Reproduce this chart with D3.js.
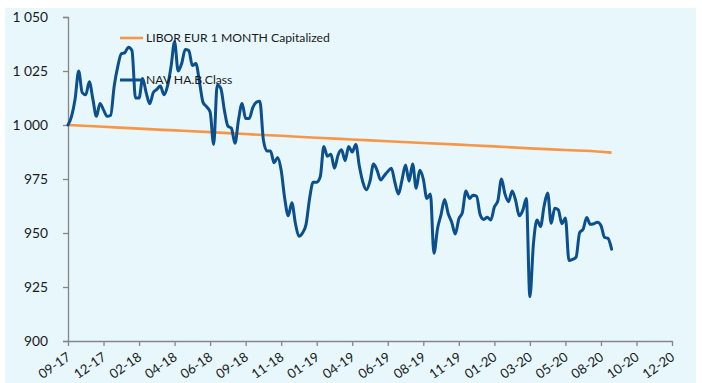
<!DOCTYPE html>
<html>
<head>
<meta charset="utf-8">
<script src="https://cdn.jsdelivr.net/npm/d3@7"></script>
<style>
  html, body { margin: 0; padding: 0; background: #ffffff; }
  svg { display: block; }
  text { font-family: Lato, "Open Sans", sans-serif; fill: #1a1a1a; }
</style>
</head>
<body>
<svg id="chart" width="702" height="383"></svg>
<script>
// Axis ticks (every 10 weeks) and their labels
const tickDates = ["2017-09-22","2017-12-01","2018-02-09","2018-04-20","2018-06-29","2018-09-07",
  "2018-11-16","2019-01-25","2019-04-05","2019-06-14","2019-08-23","2019-11-01",
  "2020-01-10","2020-03-20","2020-05-29","2020-08-07","2020-10-16","2020-12-25"];
const tickLabels = ["09-17","12-17","02-18","04-18","06-18","09-18","11-18","01-19","04-19",
  "06-19","08-19","11-19","01-20","03-20","05-20","08-20","10-20","12-20"];
const yTicks = [900, 925, 950, 975, 1000, 1025, 1050];
const yTickLabels = ["900", "925", "950", "975", "1 000", "1 025", "1 050"];

// Series names
const seriesNames = ["LIBOR EUR 1 MONTH Capitalized", "NAV HA.B.Class"];

// Weekly NAV (Fridays, starting 2017-09-22)
const navStart = "2017-09-22";
const navValues = [
  1000, 1004, 1012, 1025, 1015, 1014, 1020, 1012, 1004, 1010,
  1007, 1004, 1004.5, 1018, 1027, 1033, 1033.5, 1036, 1034.5, 1012.5,
  1012.5, 1021.5, 1015, 1009.8, 1015, 1016.5, 1018, 1014, 1018, 1027,
  1038.5, 1025, 1028.5, 1035, 1034.5, 1027.5, 1028.5, 1020, 1010.5, 1008.5,
  1006, 991, 1018.5, 1017, 1007, 999.5, 998.5, 991.5, 1002.5, 1010,
  1003, 1003, 1008, 1010.5, 1011, 993, 988, 988, 982.5, 985,
  979, 966, 958, 964, 954.5, 948.5, 950, 954, 966, 973.5,
  973.5, 976, 990, 985.5, 986.5, 980, 986, 988.5, 983.5, 990,
  987.5, 991, 981, 973.5, 970, 974, 982, 979, 974.5, 976.5,
  978.5, 980, 973.5, 968, 974.5, 981.5, 974, 982, 970.7, 979,
  975, 966, 968, 940.6, 952, 958.5, 965.5, 959, 955, 949.5,
  956.5, 959.5, 969.5, 966, 967.5, 967, 958.5, 956.3, 957.3, 956,
  962, 965, 975, 968, 964.5, 969.5, 965, 958, 960.5, 966,
  920.5, 945, 956, 953, 962.5, 968.5, 954.5, 961.5, 960.7, 954.3,
  957, 937.3, 937.8, 938.8, 950.2, 951.8, 957.2, 954, 954.3, 955,
  953.5, 948, 947.5, 942.5
];

// Capitalized LIBOR index
const liborDates = ["2017-09-22","2017-12-01","2018-02-09","2018-04-20","2018-06-29","2018-09-07",
  "2018-11-16","2019-01-25","2019-04-05","2019-06-14","2019-08-23","2019-11-01",
  "2020-01-10","2020-03-20","2020-05-29","2020-08-07","2020-08-28"];
const liborValues = [1000, 999.2, 998.3, 997.5, 996.7, 995.8, 995.0, 994.1, 993.3,
  992.5, 991.7, 990.9, 990.1, 989.2, 988.4, 987.6, 987.2];

const parse = d3.utcParse("%Y-%m-%d");
const svg = d3.select("#chart");

// Plot background
svg.append("rect").attr("x", 5).attr("y", 8).attr("width", 691).attr("height", 375)
  .attr("fill", "#e7f7fc");

const ticks = tickDates.map(parse);
const x = d3.scaleUtc().domain([ticks[0], ticks[ticks.length - 1]]).range([68, 672]);
const y = d3.scaleLinear().domain([900, 1050]).range([341, 17]);

const axisColor = "#868686";
const axisFont = "Lato, 'Open Sans', sans-serif";

// Y axis
const yAxis = svg.append("g").attr("transform", "translate(68,0)")
  .call(d3.axisLeft(y).tickValues(yTicks).tickSize(5).tickPadding(15)
    .tickFormat((d, i) => yTickLabels[i]));
yAxis.selectAll("path, line").attr("stroke", axisColor).attr("stroke-width", 1.3);
yAxis.selectAll("text").attr("font-size", 13.8).attr("fill", "#1a1a1a")
  .style("font-family", axisFont);

// X axis
const xAxis = svg.append("g").attr("transform", "translate(0,341)")
  .call(d3.axisBottom(x).tickValues(ticks).tickSize(5).tickSizeOuter(0)
    .tickFormat((d, i) => tickLabels[i]));
xAxis.selectAll("path, line").attr("stroke", axisColor).attr("stroke-width", 1.3);
xAxis.selectAll("text")
  .attr("font-size", 13.2).attr("fill", "#1a1a1a")
  .style("font-family", axisFont)
  .attr("text-anchor", "end")
  .attr("dy", null)
  .attr("y", 0)
  .attr("transform", "translate(3,18) rotate(-35)");

// Lines
const navData = navValues.map((v, i) => ({ date: d3.utcDay.offset(parse(navStart), 7 * i), value: v }));
const liborData = liborValues.map((v, i) => ({ date: parse(liborDates[i]), value: v }));

const lineGen = d3.line().x(d => x(d.date)).y(d => y(d.value)).curve(d3.curveMonotoneX);

svg.append("path").datum(liborData).attr("d", lineGen)
  .attr("fill", "none").attr("stroke", "#f79646").attr("stroke-width", 2.6);
svg.append("path").datum(navData).attr("d", lineGen)
  .attr("fill", "none").attr("stroke", "#0b4f8d").attr("stroke-width", 3)
  .attr("stroke-linejoin", "round").attr("stroke-linecap", "round");

// Legend
const legendColors = ["#f79646", "#0b4f8d"];
const legendY = [38, 80];
const legend = svg.append("g");
seriesNames.forEach((name, i) => {
  legend.append("line").attr("x1", 120).attr("x2", 143)
    .attr("y1", legendY[i]).attr("y2", legendY[i])
    .attr("stroke", legendColors[i]).attr("stroke-width", i === 0 ? 2.6 : 3);
  legend.append("text").attr("x", 146).attr("y", legendY[i]).attr("dy", "0.36em")
    .attr("font-size", 12.2).text(name);
});
</script>
</body>
</html>
